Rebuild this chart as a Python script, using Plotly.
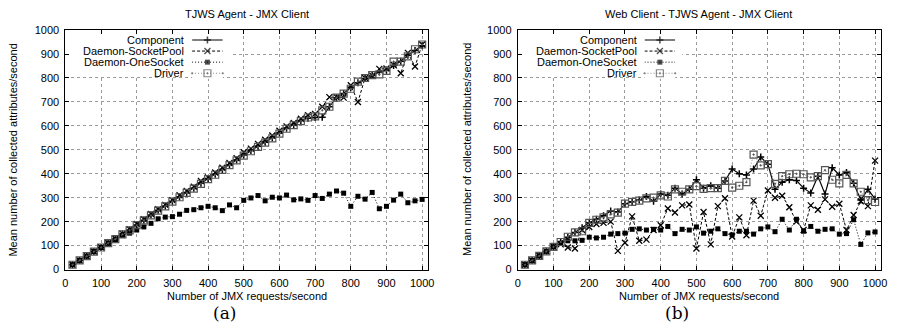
import plotly.graph_objects as go

# ---------------- data ----------------
x_vals = list(range(20, 1001, 20))

# (a) TJWS Agent - JMX Client
a_component = [20, 38, 56, 75, 92, 110, 128, 148, 165, 186, 206, 228, 248, 265, 285, 303, 322, 340, 360, 380,
               398, 418, 438, 458, 478, 497, 515, 532, 550, 570, 590, 605, 622, 632, 635, 636, 680, 718, 735, 760,
               780, 798, 810, 825, 832, 852, 870, 895, 915, 935]
a_socketpool = [20, 38, 56, 75, 93, 111, 130, 150, 168, 190, 210, 232, 252, 270, 290, 310, 328, 346, 370, 385,
                405, 425, 445, 465, 490, 505, 525, 542, 560, 580, 598, 612, 630, 645, 650, 680, 720, 720, 718, 770,
                700, 800, 810, 838, 840, 855, 820, 905, 848, 940]
a_onesocket = [20, 38, 56, 75, 92, 110, 125, 142, 152, 165, 178, 193, 212, 219, 221, 231, 247, 250, 258, 264,
               258, 246, 270, 258, 289, 299, 309, 287, 302, 299, 311, 291, 295, 289, 309, 297, 315, 328, 319, 264,
               306, 294, 322, 254, 264, 290, 315, 279, 287, 293]
a_driver = [20, 38, 56, 75, 92, 110, 127, 147, 164, 185, 205, 226, 246, 264, 284, 302, 320, 338, 358, 378,
            396, 416, 436, 456, 476, 494, 512, 530, 548, 568, 588, 603, 620, 635, 640, 665, 680, 718, 735, 755,
            785, 800, 812, 815, 830, 868, 868, 890, 920, 940]

# (b) Web Client - TJWS Agent - JMX Client
b_component = [20, 38, 57, 76, 95, 115, 135, 155, 175, 195, 210, 225, 245, 240, 275, 283, 290, 305, 285, 315,
               310, 340, 315, 335, 375, 340, 350, 340, 370, 420, 400, 395, 420, 470, 440, 335, 365, 375, 372, 340,
               320, 390, 315, 425, 395, 405, 360, 290, 335, 295]
b_socketpool = [20, 38, 57, 76, 95, 105, 92, 88, 165, 178, 190, 195, 200, 78, 112, 222, 120, 125, 165, 185,
                255, 238, 268, 272, 88, 240, 105, 265, 298, 138, 218, 143, 288, 225, 330, 300, 308, 260, 200, 165,
                268, 250, 293, 262, 275, 165, 228, 285, 265, 455]
b_onesocket = [20, 38, 57, 76, 95, 110, 120, 120, 122, 135, 132, 135, 148, 150, 152, 168, 170, 165, 168, 165,
               180, 150, 168, 165, 178, 152, 160, 170, 150, 145, 160, 160, 148, 170, 178, 158, 210, 165, 210, 160,
               180, 160, 168, 170, 148, 150, 208, 105, 153, 157]
b_driver = [20, 38, 57, 76, 95, 115, 137, 155, 160, 195, 208, 218, 230, 238, 275, 283, 288, 297, 300, 310,
            305, 335, 325, 335, 348, 337, 340, 340, 370, 342, 350, 365, 480, 435, 440, 358, 390, 398, 400, 398,
            385, 390, 415, 375, 360, 395, 360, 325, 290, 282]

series_names = ["Component", "Daemon-SocketPool", "Daemon-OneSocket", "Driver"]
x_ticks = list(range(0, 1001, 100))
y_ticks = list(range(0, 1001, 100))
titles = ["TJWS Agent - JMX Client", "Web Client - TJWS Agent - JMX Client"]
x_title = "Number of JMX requests/second"
y_title = "Mean number of collected attributes/second"
captions = ["(a)", "(b)"]

# ---------------- styles ----------------
W, H = 900, 336
FONT = "Liberation Sans, Arial, sans-serif"
X_MAX, Y_MAX = 1017, 1000
styles = [
    dict(line=dict(color="black", width=1.2, dash="solid"),
         marker=dict(symbol="cross-thin-open", size=5, color="black", line=dict(width=1.5, color="black"))),
    dict(line=dict(color="black", width=1, dash="3px,2px"),
         marker=dict(symbol="x-thin-open", size=6, color="black", line=dict(width=1.3, color="black"))),
    dict(line=dict(color="black", width=1, dash="1px,2px"),
         marker=dict(symbol="square", size=5, color="black", line=dict(width=0))),
    dict(line=dict(color="#8a8a8a", width=1, dash="1px,2px"),
         marker=dict(symbol="square-open-dot", size=7, color="#555555", line=dict(width=1.2, color="#555555"))),
]

def px_x(p):
    return p / W

def px_y(p):
    return 1 - p / H

fig = go.Figure()

panels = [
    dict(data=[a_component, a_socketpool, a_onesocket, a_driver], xa="x", ya="y",
         dom=(63, 429.5), leg_x=(191, 222), text_x=185, box_right=230, title_x=246, cap_x=224, ytitle_x=10),
    dict(data=[b_component, b_socketpool, b_onesocket, b_driver], xa="x2", ya="y2",
         dom=(520, 887), leg_x=(648, 679), text_x=642, box_right=686, title_x=703, cap_x=681, ytitle_x=468),
]

plot_top, plot_bot = 25, 273.3
leg_top, leg_bot = 29.5, 75.5
row_px = [35.25, 46.75, 58.25, 69.75]

annotations = []
shapes = []
axis_layout = {}

for i, p in enumerate(panels):
    for name, ys, st in zip(series_names, p["data"], styles):
        fig.add_trace(go.Scatter(x=x_vals, y=ys, mode="lines+markers", name=name,
                                 line=st["line"], marker=st["marker"], showlegend=False,
                                 xaxis=p["xa"], yaxis=p["ya"], cliponaxis=False))
    # custom legend samples on their own axes
    lx = "x%d" % (i + 3)
    ly = "y%d" % (i + 3)
    for r, (name, st) in enumerate(zip(series_names, styles)):
        m = dict(st["marker"])
        m["size"] = [0, st["marker"]["size"], 0]
        fig.add_trace(go.Scatter(x=[0, 0.5, 1], y=[r + 0.5] * 3, mode="lines+markers",
                                 line=st["line"], marker=m, showlegend=False, hoverinfo="skip",
                                 xaxis=lx, yaxis=ly, cliponaxis=False))
        annotations.append(dict(text=name, x=px_x(p["text_x"]), y=px_y(row_px[r]), xref="paper", yref="paper",
                                xanchor="right", yanchor="middle", showarrow=False,
                                font=dict(family=FONT, size=11, color="black")))
    # legend white box (in data coords of the panel, hides grid only)
    d0, d1 = p["dom"]
    shapes.append(dict(type="rect", xref=p["xa"], yref=p["ya"],
                       x0=3, x1=(p["box_right"] - d0) / (d1 - d0) * X_MAX,
                       y0=(plot_bot - 73.5) / (plot_bot - plot_top) * Y_MAX,
                       y1=(plot_bot - 26.5) / (plot_bot - plot_top) * Y_MAX,
                       fillcolor="white", line=dict(width=0), layer="between"))
    # titles
    annotations.append(dict(text=titles[i], x=px_x(p["title_x"]), y=px_y(8), xref="paper", yref="paper",
                            xanchor="center", yanchor="middle", showarrow=False,
                            font=dict(family=FONT, size=11, color="black")))
    annotations.append(dict(text=x_title, x=px_x(p["title_x"]), y=px_y(301), xref="paper", yref="paper",
                            xanchor="center", yanchor="middle", showarrow=False,
                            font=dict(family=FONT, size=11, color="black")))
    annotations.append(dict(text=y_title, x=px_x(p["ytitle_x"]), y=px_y(149), xref="paper", yref="paper",
                            xanchor="center", yanchor="middle", showarrow=False, textangle=-90,
                            font=dict(family=FONT, size=11, color="black")))
    annotations.append(dict(text=captions[i], x=px_x(p["cap_x"]), y=px_y(318), xref="paper", yref="paper",
                            xanchor="center", yanchor="middle", showarrow=False,
                            font=dict(family="DejaVu Serif, Liberation Serif, serif", size=17, color="black")))

    suffix = "" if i == 0 else "2"
    common = dict(showline=True, linecolor="black", linewidth=1, mirror="allticks",
                  ticks="inside", ticklen=4, tickcolor="black", tickwidth=1,
                  showgrid=True, gridcolor="#9a9a9a", gridwidth=1, griddash="dot",
                  zeroline=False, tickfont=dict(family=FONT, size=11, color="black"))
    axis_layout["xaxis" + suffix] = dict(common, domain=[px_x(d0), px_x(d1)], range=[0, X_MAX],
                                         tickvals=x_ticks, ticklabelstandoff=3,
                                         anchor="y" + suffix)
    axis_layout["yaxis" + suffix] = dict(common, domain=[px_y(plot_bot), px_y(plot_top)], range=[0, Y_MAX],
                                         tickvals=y_ticks, ticklabelstandoff=3,
                                         anchor="x" + suffix)
    lxd = p["leg_x"]
    axis_layout["xaxis%d" % (i + 3)] = dict(domain=[px_x(lxd[0]), px_x(lxd[1])], range=[0, 1], visible=False,
                                            showgrid=False, fixedrange=True, anchor=ly)
    axis_layout["yaxis%d" % (i + 3)] = dict(domain=[px_y(leg_bot), px_y(leg_top)], range=[4, 0], visible=False,
                                            showgrid=False, fixedrange=True, anchor=lx)

fig.update_layout(width=W, height=H, margin=dict(l=0, r=0, t=0, b=0),
                  paper_bgcolor="white", plot_bgcolor="white",
                  font=dict(family=FONT, size=11, color="black"),
                  annotations=annotations, shapes=shapes, showlegend=False, **axis_layout)

fig.write_html("out.html")
